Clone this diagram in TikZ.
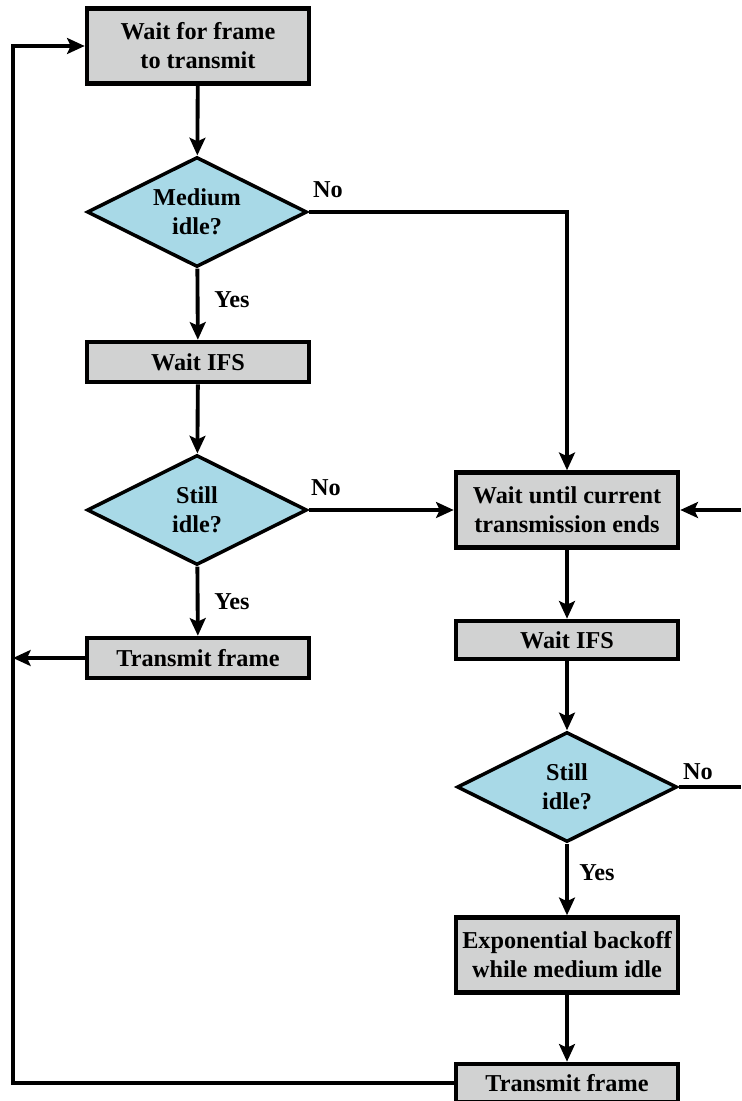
\documentclass[tikz,border=0pt]{standalone}
\usepackage{fontspec}
\setmainfont{Liberation Serif}
\newfontfamily\tnr{Liberation Serif}
\usetikzlibrary{arrows.meta,positioning,shapes.geometric}
\definecolor{boxgray}{RGB}{209,210,210}
\definecolor{decblue}{RGB}{168,217,231}
\tikzset{>={Stealth[length=10pt,width=9pt,inset=2pt]}}

\begin{document}
\begin{tikzpicture}[x=0.02cm,y=-0.02cm,
   blk/.style={draw,line width=2.6pt,fill=boxgray,align=center,inner sep=0,minimum width=4.44cm,font=\tnr\fontsize{13.8}{16.5}\selectfont\bfseries},
   dec/.style={diamond,draw,line width=2pt,fill=decblue,align=center,inner sep=0,aspect=2,minimum width=4.4cm,minimum height=2.2cm,font=\tnr\fontsize{13.8}{16.5}\selectfont\bfseries},
   ar/.style={->,line width=2.2pt},
   ln/.style={line width=2.2pt},
   lbl/.style={font=\tnr\fontsize{13.8}{16.5}\selectfont\bfseries,inner sep=1pt}]
  \useasboundingbox (0,0) rectangle (741,1101);
  % left column
  \node[blk,minimum height=1.5cm] (wf) at (198,46) {Wait for frame\\to transmit};
  \node[dec] (mi) at (197,212) {Medium\\idle?};
  \node[blk,minimum height=0.8cm] (ifsa) at (198,362) {Wait IFS};
  \node[dec] (sia) at (197,510) {Still\\idle?};
  \node[blk,minimum height=0.8cm] (txa) at (198,658) {Transmit frame};
  % right column
  \node[blk,minimum height=1.5cm] (wc) at (567,510) {Wait until current\\transmission ends};
  \node[blk,minimum height=0.76cm] (ifsb) at (567,640) {Wait IFS};
  \node[dec] (sib) at (567,787) {Still\\idle?};
  \node[blk,minimum height=1.5cm] (eb) at (567,955) {Exponential backoff\\while medium idle};
  \node[blk,minimum height=0.76cm] (txb) at (567,1083) {Transmit frame};
  % labels
  \node[lbl] (noa) at (328,190) {No};
  \node[lbl] (yesa) at (232,300) {Yes};
  \node[lbl] (nob) at (326,488) {No};
  \node[lbl] (yesb) at (232,602) {Yes};
  \node[lbl] (noc) at (698,772) {No};
  \node[lbl] (yesc) at (597,873) {Yes};
  % edge points
  \coordinate (lft) at (13,658);
  \coordinate (inr) at (741,510);
  \coordinate (outr) at (741,787);
  \draw[ar] (wf) -- (mi);
  \draw[ar] (mi) -- (ifsa);
  \draw[ar] (ifsa) -- (sia);
  \draw[ar] (sia) -- (txa);
  \draw[ar] (mi.east) -| (wc.north);
  \draw[ar] (sia.east) -- (wc.west);
  \draw[ar] (inr) -- (wc.east);
  \draw[ar] (wc) -- (ifsb);
  \draw[ar] (ifsb) -- (sib);
  \draw[ar] (sib) -- (eb);
  \draw[ar] (eb) -- (txb);
  \draw[ln] (sib.east) -- (outr);
  \draw[ar] (txa.west) -- (lft);
  \draw[ar] (txb.west) -| (lft) |- (wf.west);
\end{tikzpicture}
\end{document}
